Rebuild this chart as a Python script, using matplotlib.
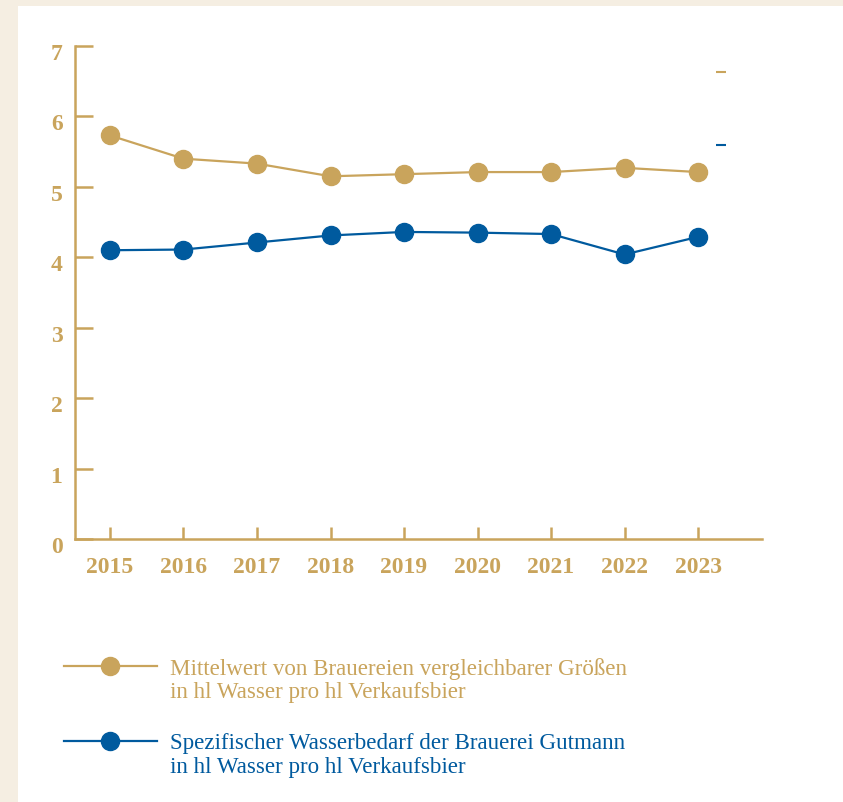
import matplotlib
matplotlib.use("Agg")
import matplotlib.pyplot as plt
from matplotlib.patches import Rectangle
from matplotlib.lines import Line2D
from matplotlib.transforms import ScaledTranslation

years = [2015, 2016, 2017, 2018, 2019, 2020, 2021, 2022, 2023]
mittelwert = [5.73, 5.40, 5.33, 5.15, 5.18, 5.21, 5.21, 5.27, 5.21]
gutmann = [4.10, 4.11, 4.21, 4.31, 4.36, 4.35, 4.33, 4.04, 4.29]
y_ticks = [0, 1, 2, 3, 4, 5, 6, 7]
legend_gold = ["Mittelwert von Brauereien vergleichbarer Größen", "in hl Wasser pro hl Verkaufsbier"]
legend_blue = ["Spezifischer Wasserbedarf der Brauerei Gutmann", "in hl Wasser pro hl Verkaufsbier"]
# small stray dash marks at the right side of the plot
dash_x = [2023.25, 2023.38]
dash_gold_y = 6.63
dash_blue_y = 5.59

GOLD = "#c9a45c"
BLUE = "#005a9e"
CREAM = "#f5eee2"

W, H = 843, 803
fig = plt.figure(figsize=(W / 100, H / 100), dpi=100)
fig.patch.set_facecolor(CREAM)
fig.patches.append(Rectangle((18 / W, 0), 1 - 18 / W, 1 - 7 / H, transform=fig.transFigure,
                             facecolor="white", edgecolor="none", zorder=-5))

ax = fig.add_axes([75 / W, 1 - 540 / H, (762 - 75) / W, (540 - 47) / H])
ax.set_zorder(2)
ax.set_facecolor("none")
ax.plot(years, mittelwert, color=GOLD, lw=1.6, marker="o", ms=13, zorder=3, clip_on=False)
ax.plot(years, gutmann, color=BLUE, lw=1.6, marker="o", ms=13, zorder=3, clip_on=False)
ax.plot(dash_x, [dash_gold_y] * 2, color=GOLD, lw=1.5, solid_capstyle="butt")
ax.plot(dash_x, [dash_blue_y] * 2, color=BLUE, lw=1.5, solid_capstyle="butt")

ax.set_xlim(2015 - 35 / 73.6, 2023 + 64 / 73.6)
ax.set_ylim(0, 7)
ax.set_xticks(years)
ax.set_xticklabels([str(y) for y in years])
ax.set_yticks(y_ticks)
ax.set_yticklabels([str(v) for v in y_ticks])
for s in ["top", "right"]:
    ax.spines[s].set_visible(False)
for s in ["left", "bottom"]:
    ax.spines[s].set_color(GOLD)
    ax.spines[s].set_linewidth(1.8)
ax.tick_params(axis="y", direction="in", length=13, width=1.8, color=GOLD, pad=9,
               labelcolor=GOLD, labelsize=17)
ax.tick_params(axis="x", direction="in", length=8.6, width=1.8, color=GOLD, pad=12,
               labelcolor=GOLD, labelsize=17)
for lab in ax.get_yticklabels() + ax.get_xticklabels():
    lab.set_fontfamily("Liberation Serif")
    lab.set_fontweight("bold")
for lab in ax.get_yticklabels():
    lab.set_transform(lab.get_transform() + ScaledTranslation(0, -5 / 100, fig.dpi_scale_trans))

def legend_entry(y_px, color, lines):
    yf = 1 - y_px / H
    fig.add_artist(Line2D([64 / W, 157 / W], [yf, yf], transform=fig.transFigure,
                          color=color, lw=1.6))
    fig.add_artist(Line2D([110 / W], [yf], transform=fig.transFigure, marker="o",
                          ms=13, color=color, lw=0))
    for i, t in enumerate(lines):
        fig.text(170 / W, 1 - (y_px + 2 + i * 23.5) / H, t, transform=fig.transFigure,
                 color=color, fontsize=16.6, fontfamily="Liberation Serif",
                 va="center", ha="left")

legend_entry(667, GOLD, legend_gold)
legend_entry(742, BLUE, legend_blue)

fig.savefig("out.png", dpi=100, facecolor=fig.get_facecolor())
